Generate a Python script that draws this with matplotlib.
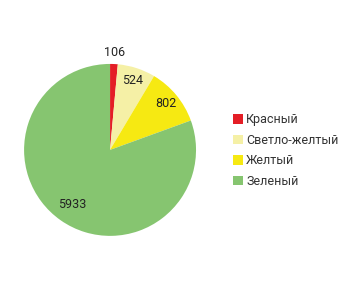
import numpy as np
import matplotlib
matplotlib.use('Agg')
import matplotlib.pyplot as plt
from matplotlib.patches import Patch

names = ['Красный', 'Светло-желтый', 'Желтый', 'Зеленый']
values = [106, 524, 802, 5933]
colors = ['#e41e26', '#f5f0a6', '#f6e912', '#86c570']
label_r = [1.14, 0.85, 0.84, 0.77]

plt.rcParams['font.family'] = ['Roboto', 'DejaVu Sans']

fig = plt.figure(figsize=(3.6, 2.88), dpi=100)
ax = fig.add_axes([0.0667, 0.181, 0.478, 0.597])
wedges, _ = ax.pie(values, colors=colors, startangle=90, counterclock=False,
                   wedgeprops=dict(linewidth=0))
ax.set_xlim(-1, 1)
ax.set_ylim(-1, 1)
ax.set_aspect('equal')

for w, v, r in zip(wedges, values, label_r):
    a = np.deg2rad((w.theta1 + w.theta2) / 2)
    ax.text(r * np.cos(a), r * np.sin(a), str(v), ha='center', va='center',
            fontsize=9, color='#222222')

handles = [Patch(facecolor=c, edgecolor='none') for c in colors]
fig.legend(handles, names, loc='center left', bbox_to_anchor=(0.647, 0.477),
           frameon=False, fontsize=9, handlelength=0.8, handleheight=0.8,
           handletextpad=0.25, labelspacing=0.6, labelcolor='#333333',
           borderaxespad=0, borderpad=0)

fig.savefig('out.png', dpi=100)
